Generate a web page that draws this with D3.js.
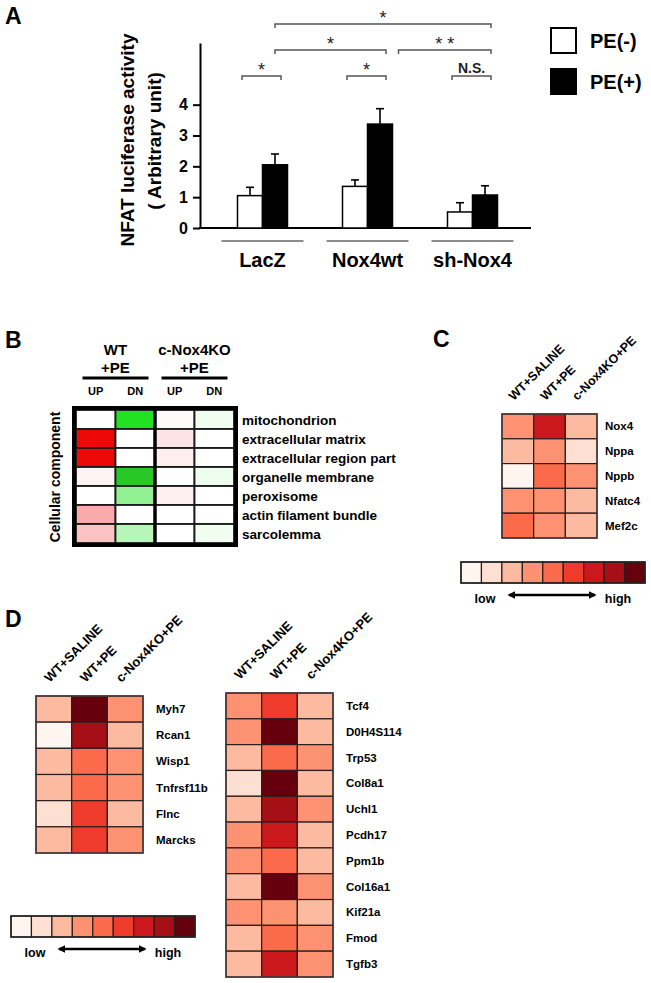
<!DOCTYPE html>
<html><head><meta charset="utf-8">
<script src="https://cdn.jsdelivr.net/npm/d3@7"></script>
<style>
body{margin:0;background:#fff;}
svg{display:block;font-family:"Liberation Sans",Arial,Helvetica,sans-serif;font-weight:bold;}
</style></head><body>
<svg id="chart" width="651" height="983"></svg>
<script>
// ---------------- Panel A data ----------------
const groups = ["LacZ", "Nox4wt", "sh-Nox4"];
const treatments = ["PE(-)", "PE(+)"];
const meanPEminus = [1.05, 1.35, 0.52];
const meanPEplus  = [2.05, 3.37, 1.07];
const errPEminus  = [0.27, 0.21, 0.30];
const errPEplus   = [0.35, 0.50, 0.30];
const yTicks = [0, 1, 2, 3, 4];
const compFrom  = ["LacZ", "Nox4wt", "sh-Nox4", "LacZ", "Nox4wt", "LacZ"];
const compTo    = ["LacZ", "Nox4wt", "sh-Nox4", "Nox4wt", "sh-Nox4", "sh-Nox4"];
const compLevel = [0, 0, 0, 1, 1, 2];
const compLabel = ["*", "*", "N.S.", "*", "* *", "*"];

// ---------------- Panel B data ----------------
const goTerms = ["mitochondrion", "extracellular matrix", "extracellular region part",
  "organelle membrane", "peroxisome", "actin filament bundle", "sarcolemma"];
const bGroups = [["WT", "+PE"], ["c-Nox4KO", "+PE"]];
const bColumns = ["UP", "DN", "UP", "DN"];
const wtUp = [0, 1, 1, 0.05, 0, 0.34, 0.24];
const wtDn = [1, 0, 0, 1.15, 0.5, 0, 0.32];
const koUp = [0.02, 0.11, 0.07, 0, 0.06, 0, 0];
const koDn = [0.07, 0, 0, 0.08, 0, 0, 0.06];

// ---------------- Panel C / D data (expression level 1..9) ----------------
const hmConditions = ["WT+SALINE", "WT+PE", "c-Nox4KO+PE"];
const cGenes   = ["Nox4", "Nppa", "Nppb", "Nfatc4", "Mef2c"];
const cSaline  = [4, 3, 1, 4, 5];
const cPE      = [7, 4, 5, 4, 4];
const cKO      = [3, 2, 4, 3, 3];

const d1Genes  = ["Myh7", "Rcan1", "Wisp1", "Tnfrsf11b", "Flnc", "Marcks"];
const d1Saline = [3, 1, 3, 3, 2, 3];
const d1PE     = [9, 8, 5, 5, 6, 6];
const d1KO     = [4, 3, 4, 4, 3, 4];

const d2Genes  = ["Tcf4", "D0H4S114", "Trp53", "Col8a1", "Uchl1", "Pcdh17", "Ppm1b", "Col16a1", "Kif21a", "Fmod", "Tgfb3"];
const d2Saline = [4, 4, 3, 2, 3, 4, 4, 3, 4, 3, 3];
const d2PE     = [6, 9, 5, 9, 8, 7, 5, 9, 4, 5, 7];
const d2KO     = [3, 3, 4, 3, 4, 3, 3, 4, 3, 4, 4];

const legendLevels = [1, 2, 3, 4, 5, 6, 7, 8, 9];
const legendLabels = ["low", "high"];
const panelLetters = ["A", "B", "C", "D"];

// ======================================================
const svg = d3.select("#chart");

// defs: arrowhead
svg.append("defs").append("marker")
  .attr("id", "arr").attr("viewBox", "0 0 10 10").attr("refX", 8).attr("refY", 5)
  .attr("markerWidth", 3.2).attr("markerHeight", 3.2).attr("orient", "auto-start-reverse")
  .append("path").attr("d", "M0,0 L10,5 L0,10 z").attr("fill", "#000");

// panel letters
const letterPos = [[5, 24], [5, 348], [433, 347], [5, 627]];
panelLetters.forEach((L, i) => svg.append("text").attr("x", letterPos[i][0]).attr("y", letterPos[i][1])
  .attr("font-size", 23).text(L));

// ---------------- Panel A ----------------
const gA = svg.append("g");
const yA = d3.scaleLinear().domain([0, 6]).range([228, 43]);
const xA = d3.scaleBand().domain(groups).range([210, 525]);
const xIn = d3.scaleBand().domain(treatments).range([-25, 25]);
const fillA = d3.scaleOrdinal().domain(treatments).range(["#fff", "#000"]);
const gc = g => xA(g) + xA.bandwidth() / 2;

const yAxis = gA.append("g").attr("transform", "translate(200,0)")
  .call(d3.axisLeft(yA).tickValues(yTicks).tickFormat(d3.format("d")).tickSize(7).tickSizeOuter(0).tickPadding(5));
yAxis.select(".domain").attr("stroke-width", 2);
yAxis.selectAll(".tick line").attr("stroke-width", 2);
yAxis.selectAll(".tick text").attr("font-size", 16).attr("font-weight", "bold")
  .attr("font-family", "Liberation Sans, Arial, sans-serif").attr("fill", "#000");
gA.append("line").attr("x1", 199).attr("x2", 531).attr("y1", yA(0)).attr("y2", yA(0))
  .attr("stroke", "#000").attr("stroke-width", 2);

const barData = [];
groups.forEach((g, i) => {
  barData.push({g, t: treatments[0], v: meanPEminus[i], e: errPEminus[i]});
  barData.push({g, t: treatments[1], v: meanPEplus[i], e: errPEplus[i]});
});
const bars = gA.selectAll(".bar").data(barData).join("g");
bars.append("line")
  .attr("x1", d => gc(d.g) + xIn(d.t) + xIn.bandwidth() / 2)
  .attr("x2", d => gc(d.g) + xIn(d.t) + xIn.bandwidth() / 2)
  .attr("y1", d => yA(d.v)).attr("y2", d => yA(d.v + d.e))
  .attr("stroke", "#000").attr("stroke-width", 1.6);
bars.append("line")
  .attr("x1", d => gc(d.g) + xIn(d.t) + xIn.bandwidth() / 2 - 4)
  .attr("x2", d => gc(d.g) + xIn(d.t) + xIn.bandwidth() / 2 + 4)
  .attr("y1", d => yA(d.v + d.e)).attr("y2", d => yA(d.v + d.e))
  .attr("stroke", "#000").attr("stroke-width", 1.6);
bars.append("rect")
  .attr("x", d => gc(d.g) + xIn(d.t)).attr("width", xIn.bandwidth())
  .attr("y", d => yA(d.v)).attr("height", d => yA(0) - yA(d.v))
  .attr("fill", d => fillA(d.t)).attr("stroke", "#000").attr("stroke-width", 1.5);

// group underlines and labels
groups.forEach(g => {
  gA.append("line").attr("x1", gc(g) - 41).attr("x2", gc(g) + 41).attr("y1", 241).attr("y2", 241)
    .attr("stroke", "#666").attr("stroke-width", 1.5);
  gA.append("text").attr("x", gc(g)).attr("y", 267).attr("text-anchor", "middle")
    .attr("font-size", 20).text(g);
});

// significance brackets
const blackCenter = g => gc(g) + xIn(treatments[1]) + xIn.bandwidth() / 2;
const whiteCenter = g => gc(g) + xIn(treatments[0]) + xIn.bandwidth() / 2;
compFrom.forEach((f, i) => {
  const t = compTo[i], lev = compLevel[i];
  const yy = 76 - lev * 26;
  let x1, x2;
  if (f === t) { x1 = whiteCenter(f) - 8; x2 = blackCenter(f) + 6; }
  else {
    const sharesLevel = compTo.some((tt, j) => j !== i && compLevel[j] === lev && tt === f);
    x1 = sharesLevel ? gc(f) + 25 + 6 : blackCenter(f);
    x2 = blackCenter(t) + 6;
  }
  gA.append("path").attr("d", `M${x1},${yy + 4}V${yy}H${x2}V${yy + 4}`)
    .attr("fill", "none").attr("stroke", "#555").attr("stroke-width", 1.5);
  const isNS = compLabel[i] === "N.S.";
  gA.append("text").attr("x", (x1 + x2) / 2).attr("y", isNS ? yy - 3 : yy)
    .attr("text-anchor", "middle").attr("font-size", isNS ? 14 : 18)
    .attr("font-weight", isNS ? "bold" : "normal").attr("fill", "#222")
    .text(compLabel[i]);
});

// y title
gA.append("text").attr("transform", "translate(134,140) rotate(-90)").attr("text-anchor", "middle")
  .attr("font-size", 19).text("NFAT luciferase activity");
gA.append("text").attr("transform", "translate(161,141) rotate(-90)").attr("text-anchor", "middle")
  .attr("font-size", 19).text("( Arbitrary unit)");

// legend A
treatments.forEach((t, i) => {
  gA.append("rect").attr("x", 551).attr("y", 28 + i * 41).attr("width", 25).attr("height", 25)
    .attr("fill", fillA(t)).attr("stroke", "#000").attr("stroke-width", 2);
  gA.append("text").attr("x", 590).attr("y", 48 + i * 41).attr("font-size", 20).text(t);
});

// ---------------- Panel B ----------------
const gB = svg.append("g");
const bx = d3.scaleBand().domain(d3.range(4)).range([76, 234]);
const by = d3.scaleBand().domain(goTerms).range([410, 543]);
const redB = d3.scaleLinear().domain([0, 1]).range(["#ffffff", "#ee0808"]);
const greenB = d3.scaleLinear().domain([0, 1, 1.3]).range(["#ffffff", "#22e022", "#30b030"]);
const bCols = [wtUp, wtDn, koUp, koDn];
bCols.forEach((col, j) => {
  goTerms.forEach((term, i) => {
    gB.append("rect").attr("x", bx(j)).attr("y", by(term)).attr("width", bx.bandwidth()).attr("height", by.bandwidth())
      .attr("fill", (j % 2 === 0 ? redB : greenB)(col[i]))
      .attr("stroke", "#1a1a1a").attr("stroke-width", 1.8);
  });
});
gB.append("rect").attr("x", 74).attr("y", 408).attr("width", 162).attr("height", 137)
  .attr("fill", "none").attr("stroke", "#000").attr("stroke-width", 4);
gB.append("line").attr("x1", bx(2)).attr("x2", bx(2)).attr("y1", 408).attr("y2", 545)
  .attr("stroke", "#000").attr("stroke-width", 3.5);
bGroups.forEach((lines, k) => {
  const cx = bx(k * 2 + 1);
  gB.append("text").attr("x", cx).attr("y", 355).attr("text-anchor", "middle").attr("font-size", 15).text(lines[0]);
  gB.append("text").attr("x", cx).attr("y", 373).attr("text-anchor", "middle").attr("font-size", 15).text(lines[1]);
  gB.append("line").attr("x1", cx - 33).attr("x2", cx + 33).attr("y1", 378).attr("y2", 378)
    .attr("stroke", "#000").attr("stroke-width", 3);
});
bColumns.forEach((c, j) => gB.append("text").attr("x", bx(j) + bx.bandwidth() / 2).attr("y", 395)
  .attr("text-anchor", "middle").attr("font-size", 11).text(c));
goTerms.forEach(term => gB.append("text").attr("x", 242).attr("y", by(term) + by.bandwidth() / 2 + 5)
  .attr("font-size", 13.5).text(term));
gB.append("text").attr("transform", "translate(60,477) rotate(-90)").attr("text-anchor", "middle")
  .attr("font-size", 14).text("Cellular component");

// ---------------- Heatmaps ----------------
const reds = d3.scaleQuantize().domain([0.5, 9.5]).range(d3.schemeReds[9]);

function heatmap(x0, y0, w, h, genes, cols, gap, colFont) {
  const g = svg.append("g");
  const x = d3.scaleBand().domain(hmConditions).range([x0, x0 + w]);
  const y = d3.scaleBand().domain(genes).range([y0, y0 + h]);
  hmConditions.forEach((c, j) => genes.forEach((gene, i) => {
    g.append("rect").attr("x", x(c)).attr("y", y(gene)).attr("width", x.bandwidth()).attr("height", y.bandwidth())
      .attr("fill", reds(cols[j][i])).attr("stroke", "#2b1d1d").attr("stroke-width", 1.2);
  }));
  g.append("rect").attr("x", x0).attr("y", y0).attr("width", w).attr("height", h)
    .attr("fill", "none").attr("stroke", "#4a3a3a").attr("stroke-width", 1.5);
  genes.forEach(gene => g.append("text").attr("x", x0 + w + gap).attr("y", y(gene) + y.bandwidth() / 2 + 4)
    .attr("font-size", 11.5).text(gene));
  hmConditions.forEach(c => g.append("text")
    .attr("transform", `translate(${x(c) + x.bandwidth() / 2 - 4},${y0 - 13}) rotate(-45)`)
    .attr("font-size", colFont).text(c));
}

function legend(x0, y0, w, h) {
  const g = svg.append("g");
  const x = d3.scaleBand().domain(legendLevels).range([x0, x0 + w]);
  legendLevels.forEach(l => g.append("rect").attr("x", x(l)).attr("y", y0).attr("width", x.bandwidth()).attr("height", h)
    .attr("fill", reds(l)).attr("stroke", "#2b1d1d").attr("stroke-width", 1.2));
  g.append("rect").attr("x", x0).attr("y", y0).attr("width", w).attr("height", h)
    .attr("fill", "none").attr("stroke", "#222").attr("stroke-width", 1.5);
  g.append("text").attr("x", x0 + 24).attr("y", y0 + h + 20).attr("text-anchor", "middle").attr("font-size", 12.5).text(legendLabels[0]);
  g.append("text").attr("x", x0 + 157).attr("y", y0 + h + 20).attr("text-anchor", "middle").attr("font-size", 12.5).text(legendLabels[1]);
  g.append("line").attr("x1", x0 + 48).attr("x2", x0 + 134).attr("y1", y0 + h + 12).attr("y2", y0 + h + 12)
    .attr("stroke", "#000").attr("stroke-width", 2.5)
    .attr("marker-start", "url(#arr)").attr("marker-end", "url(#arr)");
}

heatmap(502, 414, 95, 124, cGenes, [cSaline, cPE, cKO], 8, 12.5);
legend(461, 562, 184, 21);
heatmap(36, 696, 107, 157, d1Genes, [d1Saline, d1PE, d1KO], 13, 13);
heatmap(226, 693, 107, 284, d2Genes, [d2Saline, d2PE, d2KO], 13, 13);
legend(11, 916, 184, 21);
</script>
</body></html>
